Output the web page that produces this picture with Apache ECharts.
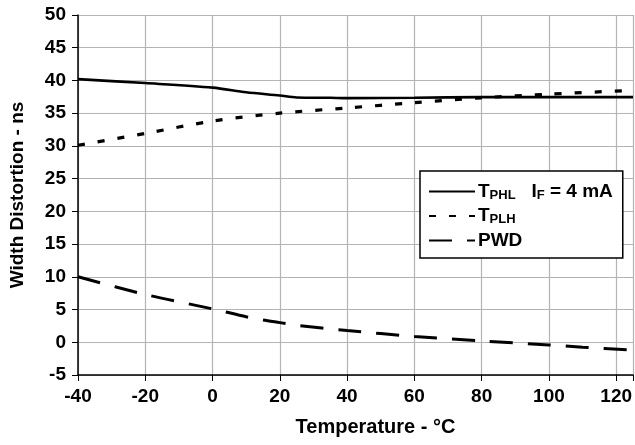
<!DOCTYPE html>
<html>
<head>
<meta charset="utf-8">
<script src="https://cdn.jsdelivr.net/npm/echarts@6/dist/echarts.min.js"></script>
<style>
  html, body { margin: 0; padding: 0; background: #fff; }
  #chart { width: 635px; height: 445px; }
</style>
</head>
<body>
<div id="chart"></div>
<script>
const xTicks = [-40, -20, 0, 20, 40, 60, 80, 100, 120]
const yTicks = [-5, 0, 5, 10, 15, 20, 25, 30, 35, 40, 45, 50]

// [temperature °C, ns]
const tphl = [[-40, 40.2], [-20, 39.6], [0, 38.9], [10, 38.2], [20, 37.7], [25, 37.4], [35, 37.35], [40, 37.3], [60, 37.35], [80, 37.45], [100, 37.45], [125, 37.45]]
const tplh = [[-40, 30.1], [-20, 31.9], [0, 33.8], [20, 35.0], [40, 35.8], [60, 36.6], [80, 37.35], [100, 37.9], [125, 38.5]]
const pwd = [[-40, 10.0], [-20, 7.3], [0, 5.1], [10, 3.9], [15, 3.4], [20, 3.0], [25, 2.6], [40, 1.8], [60, 0.9], [80, 0.2], [100, -0.4], [110, -0.75], [125, -1.2]]

const font = "'Liberation Sans', Arial, sans-serif"

const chart = echarts.init(document.getElementById('chart'), null, { renderer: 'canvas' })

const rich = {
  b: { fontFamily: font, fontWeight: 'bold', fontSize: 19, color: '#000' },
  s: { fontFamily: font, fontWeight: 'bold', fontSize: 13, color: '#000', padding: [7, 0, 0, 0] },
}

chart.setOption({
  animation: false,
  backgroundColor: '#fff',
  color: ['#000', '#000', '#000'],
  grid: { left: 73, right: 2, top: 15, bottom: 70 },
  legend: {
    orient: 'vertical',
    left: 420,
    top: 171,
    width: 203,
    padding: [11, 10, 8, 8],
    itemWidth: 46,
    itemHeight: 14,
    itemGap: 5,
    backgroundColor: '#fff',
    borderColor: '#000',
    borderWidth: 1.5,
    itemStyle: { opacity: 0 },
    data: ['TPHL', 'TPLH', 'PWD'],
    formatter: (name) => {
      if (name === 'TPHL') return '{b|T}{s|PHL}{b|   I}{s|F}{b| = 4 mA}'
      if (name === 'TPLH') return '{b|T}{s|PLH}'
      return '{b|PWD}'
    },
    textStyle: { rich: rich, padding: [0, 0, 0, -2] },
  },
  xAxis: {
    type: 'value',
    min: -40,
    max: 125,
    interval: 20,
    name: 'Temperature - °C',
    nameLocation: 'middle',
    nameGap: 42,
    nameTextStyle: { fontFamily: font, fontWeight: 'bold', fontSize: 20, color: '#000', padding: [0, 0, 0, 40] },
    axisLine: { show: true, onZero: false, lineStyle: { color: '#000', width: 1.5 } },
    axisTick: { show: true, length: 6, lineStyle: { color: '#000' } },
    axisLabel: {
      fontFamily: font, fontWeight: 'bold', fontSize: 19, color: '#000', margin: 12,
      customValues: xTicks,
    },
    splitLine: { show: true, lineStyle: { color: '#b4b4b4', width: 1.2 } },
  },
  yAxis: {
    type: 'value',
    min: -5,
    max: 50,
    interval: 5,
    name: 'Width Distortion - ns',
    nameLocation: 'middle',
    nameGap: 51,
    nameTextStyle: { fontFamily: font, fontWeight: 'bold', fontSize: 19, color: '#000' },
    axisLine: { show: true, onZero: false, lineStyle: { color: '#000', width: 1.5 } },
    axisTick: { show: true, length: 6, lineStyle: { color: '#000' } },
    axisLabel: {
      fontFamily: font, fontWeight: 'bold', fontSize: 19, color: '#000', margin: 12,
      customValues: yTicks,
    },
    splitLine: { show: true, lineStyle: { color: '#b4b4b4', width: 1.2 } },
  },
  series: [
    {
      name: 'TPHL',
      type: 'line',
      data: tphl,
      smooth: 0.3,
      symbol: 'none',
      lineStyle: { color: '#000', width: 2.6 },
    },
    {
      name: 'TPLH',
      type: 'line',
      data: tplh,
      smooth: 0.3,
      symbol: 'none',
      lineStyle: { color: '#000', width: 3.2, type: [7, 13] },
    },
    {
      name: 'PWD',
      type: 'line',
      data: pwd,
      smooth: 0.3,
      symbol: 'none',
      lineStyle: { color: '#000', width: 3, type: [23, 15] },
    },
  ],
})
</script>
</body>
</html>
